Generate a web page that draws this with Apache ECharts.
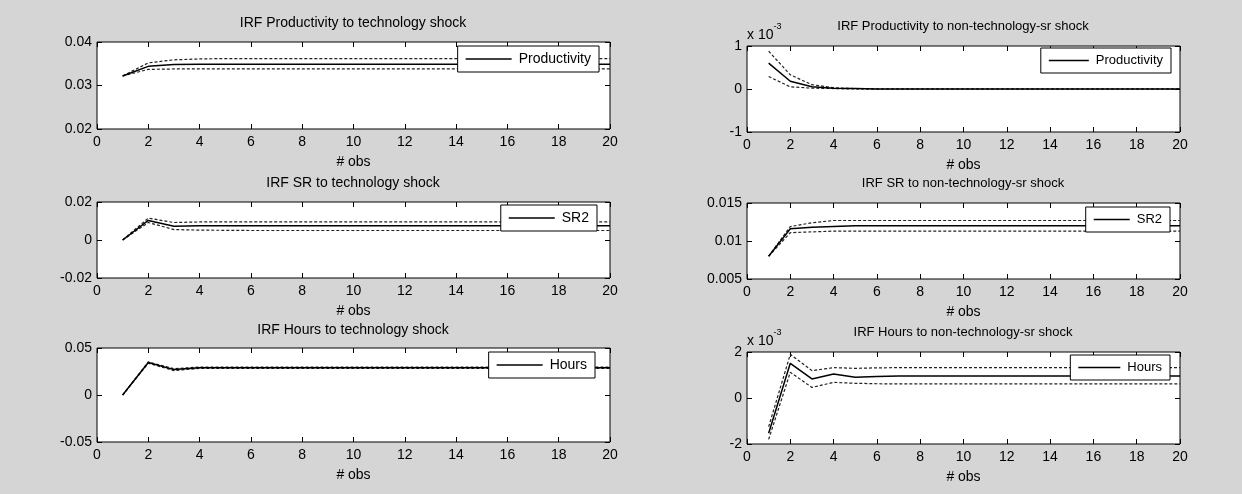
<!DOCTYPE html>
<html><head><meta charset="utf-8">
<script src="https://cdn.jsdelivr.net/npm/echarts@6/dist/echarts.min.js"></script>
<style>html,body{margin:0;padding:0;background:#d5d5d5}#c{width:1242px;height:494px}</style>
</head><body><div id="c"></div>
<script>
// ---- data ----
const obs = [1,2,3,4,5,6,7,8,9,10,11,12,13,14,15,16,17,18,19,20];

const prodTechUpper = [0.0322,0.0352,0.0359,0.0361,0.0362,0.0362,0.0362,0.0362,0.0362,0.0362,0.0362,0.0362,0.0362,0.0362,0.0362,0.0362,0.0362,0.0362,0.0362,0.0362];
const prodTechMid   = [0.0322,0.0344,0.0348,0.0349,0.0349,0.0349,0.0349,0.0349,0.0349,0.0349,0.0349,0.0349,0.0349,0.0349,0.0349,0.0349,0.0349,0.0349,0.0349,0.0349];
const prodTechLower = [0.0322,0.0337,0.0338,0.0338,0.0338,0.0338,0.0338,0.0338,0.0338,0.0338,0.0338,0.0338,0.0338,0.0338,0.0338,0.0338,0.0338,0.0338,0.0338,0.0338];

const srTechUpper = [0,0.0115,0.0092,0.0095,0.0095,0.0095,0.0095,0.0095,0.0095,0.0095,0.0095,0.0095,0.0095,0.0095,0.0095,0.0095,0.0095,0.0095,0.0095,0.0095];
const srTechMid   = [0,0.0103,0.0072,0.0075,0.0075,0.0075,0.0075,0.0075,0.0075,0.0075,0.0075,0.0075,0.0075,0.0075,0.0075,0.0075,0.0075,0.0075,0.0075,0.0075];
const srTechLower = [0,0.0092,0.0055,0.0052,0.0051,0.0050,0.0050,0.0050,0.0050,0.0050,0.0050,0.0050,0.0050,0.0050,0.0050,0.0050,0.0050,0.0050,0.0050,0.0050];

const hoursTechUpper = [0,0.0352,0.0280,0.0297,0.0296,0.0296,0.0296,0.0296,0.0296,0.0296,0.0296,0.0296,0.0296,0.0296,0.0296,0.0296,0.0296,0.0296,0.0296,0.0296];
const hoursTechMid   = [0,0.0345,0.0270,0.0290,0.0289,0.0289,0.0289,0.0289,0.0289,0.0289,0.0289,0.0289,0.0289,0.0289,0.0289,0.0289,0.0289,0.0289,0.0289,0.0289];
const hoursTechLower = [0,0.0338,0.0260,0.0283,0.0282,0.0282,0.0282,0.0282,0.0282,0.0282,0.0282,0.0282,0.0282,0.0282,0.0282,0.0282,0.0282,0.0282,0.0282,0.0282];

const prodNonUpper = [0.00088,0.00033,0.00010,0.00003,0.00001,0,0,0,0,0,0,0,0,0,0,0,0,0,0,0];
const prodNonMid   = [0.00060,0.00018,0.00005,0.00002,0.00001,0,0,0,0,0,0,0,0,0,0,0,0,0,0,0];
const prodNonLower = [0.00029,0.00005,0.00002,0.00001,0,0,0,0,0,0,0,0,0,0,0,0,0,0,0,0];

const srNonUpper = [0.0080,0.0119,0.0124,0.0127,0.0127,0.0127,0.0127,0.0127,0.0127,0.0127,0.0127,0.0127,0.0127,0.0127,0.0127,0.0127,0.0127,0.0127,0.0127,0.0127];
const srNonMid   = [0.0080,0.0116,0.0118,0.0119,0.0120,0.0120,0.0120,0.0120,0.0120,0.0120,0.0120,0.0120,0.0120,0.0120,0.0120,0.0120,0.0120,0.0120,0.0120,0.0120];
const srNonLower = [0.0080,0.0111,0.0112,0.0113,0.0113,0.0113,0.0113,0.0113,0.0113,0.0113,0.0113,0.0113,0.0113,0.0113,0.0113,0.0113,0.0113,0.0113,0.0113,0.0113];

const hoursNonUpper = [-0.00125,0.00190,0.00119,0.00132,0.00129,0.00131,0.00132,0.00132,0.00132,0.00132,0.00132,0.00132,0.00132,0.00132,0.00132,0.00132,0.00132,0.00132,0.00132,0.00132];
const hoursNonMid   = [-0.00153,0.00151,0.00083,0.00104,0.00090,0.00094,0.00096,0.00096,0.00096,0.00096,0.00096,0.00096,0.00096,0.00096,0.00096,0.00096,0.00096,0.00096,0.00096,0.00096];
const hoursNonLower = [-0.00180,0.00112,0.00046,0.00068,0.00064,0.00062,0.00061,0.00061,0.00061,0.00061,0.00061,0.00061,0.00061,0.00061,0.00061,0.00061,0.00061,0.00061,0.00061,0.00061];

const titles = [
  'IRF Productivity to technology shock',
  'IRF SR to technology shock',
  'IRF Hours to technology shock',
  'IRF Productivity to non-technology-sr shock',
  'IRF SR to non-technology-sr shock',
  'IRF Hours to non-technology-sr shock'
];
const seriesNames = ['Productivity','SR2','Hours','Productivity','SR2','Hours'];
const xAxisLabel = '# obs';
const xTickStep = 2;
const xRange = [0, 20];
const yRanges = [[0.02,0.04,0.01],[-0.02,0.02,0.02],[-0.05,0.05,0.05],[-0.001,0.001,0.001],[0.005,0.015,0.005],[-0.002,0.002,0.002]];
const yScaled = [false,false,false,true,false,true];
const bands = [
  [prodTechUpper, prodTechMid, prodTechLower],
  [srTechUpper, srTechMid, srTechLower],
  [hoursTechUpper, hoursTechMid, hoursTechLower],
  [prodNonUpper, prodNonMid, prodNonLower],
  [srNonUpper, srNonMid, srNonLower],
  [hoursNonUpper, hoursNonMid, hoursNonLower]
];

// ---- layout ----
const FONT = "'Liberation Sans', Arial, sans-serif";
const layout = [
  {grid:{left:97, top:42, width:513, height:87},  title:{x:353, y:16},  legend:{right:643, top:46}, fs:14, lfs:14, tfs:14, lw:46},
  {grid:{left:97, top:202, width:513, height:76}, title:{x:353, y:176}, legend:{right:645, top:205}, fs:14, lfs:14, tfs:14, lw:46},
  {grid:{left:97, top:348, width:513, height:94}, title:{x:353, y:323}, legend:{right:647, top:352}, fs:14, lfs:14, tfs:14, lw:46},
  {grid:{left:747, top:46, width:433, height:86}, title:{x:963, y:20},  legend:{right:71, top:48}, fs:14, lfs:13, tfs:13, lw:40},
  {grid:{left:747, top:203, width:433, height:76},title:{x:963, y:177}, legend:{right:72, top:207}, fs:14, lfs:13, tfs:13, lw:36},
  {grid:{left:747, top:352, width:433, height:92},title:{x:963, y:326}, legend:{right:72, top:355}, fs:14, lfs:13, tfs:13, lw:42}
];

const grid = [], xAxis = [], yAxis = [], series = [], title = [], legend = [];
const pair = arr => obs.map((x, k) => [x, arr[k]]);

layout.forEach((L, i) => {
  const txt = {color:'#000', fontFamily:FONT, fontSize:L.fs};
  grid.push(Object.assign({show:true, backgroundColor:'#fff', borderColor:'#000', borderWidth:1}, L.grid));
  title.push({text:titles[i], left:L.title.x, top:L.title.y, textAlign:'center', padding:0,
    textStyle:{color:'#000', fontFamily:FONT, fontSize:L.tfs, fontWeight:'normal'}});
  const tick = {show:true, inside:true, length:5, lineStyle:{color:'#000', width:1}};
  const line = {show:false, onZero:false};
  xAxis.push({gridIndex:i, type:'value', min:xRange[0], max:xRange[1], interval:xTickStep, position:'bottom',
    axisLine:line, axisTick:tick, splitLine:{show:false},
    axisLabel:Object.assign({margin:6}, txt),
    name:xAxisLabel, nameLocation:'middle', nameGap:26, nameTextStyle:txt});
  xAxis.push({gridIndex:i, type:'value', min:xRange[0], max:xRange[1], interval:xTickStep, position:'top',
    axisLine:line, axisTick:tick, splitLine:{show:false}, axisLabel:{show:false}});
  const [ymin, ymax, yint] = yRanges[i];
  const yl = {gridIndex:i, type:'value', min:ymin, max:ymax, interval:yint, position:'left',
    axisLine:line, axisTick:tick, splitLine:{show:false},
    axisLabel:Object.assign({margin:5}, txt)};
  if (yScaled[i]) {
    yl.axisLabel.formatter = v => String(Math.round(v * 1000));
    yl.name = '{a|x 10}{s|-3}';
    yl.nameLocation = 'end';
    yl.nameGap = 4;
    yl.nameTextStyle = {align:'left', verticalAlign:'bottom', rich:{
      a:{fontSize:14, fontFamily:FONT, color:'#000', lineHeight:20, verticalAlign:'bottom'},
      s:{fontSize:9, fontFamily:FONT, color:'#000', lineHeight:20, verticalAlign:'top'}}};
  }
  yAxis.push(yl);
  yAxis.push({gridIndex:i, type:'value', min:ymin, max:ymax, interval:yint, position:'right',
    axisLine:line, axisTick:tick, splitLine:{show:false}, axisLabel:{show:false}});
  const [up, mid, lo] = bands[i];
  const band = {type:[3,2], color:'#222', width:1.2};
  series.push({type:'line', name:seriesNames[i], xAxisIndex:2*i, yAxisIndex:2*i, data:pair(mid), symbol:'none',
    lineStyle:{color:'#000', width:1.5}, itemStyle:{color:'#000'}, z:3});
  series.push({type:'line', xAxisIndex:2*i, yAxisIndex:2*i, data:pair(up), symbol:'none', lineStyle:band, z:2});
  series.push({type:'line', xAxisIndex:2*i, yAxisIndex:2*i, data:pair(lo), symbol:'none', lineStyle:band, z:2});
  legend.push({data:[seriesNames[i]], right:L.legend.right, top:L.legend.top, orient:'vertical',
    backgroundColor:'#fff', borderColor:'#000', borderWidth:1, padding:[6,8,6,8],
    icon:'rect', itemWidth:L.lw, itemHeight:1.5, itemGap:0, selectedMode:false,
    itemStyle:{color:'#000'}, textStyle:{color:'#000', fontFamily:FONT, fontSize:L.lfs, padding:[0,0,0,2]}});
});

const chart = echarts.init(document.getElementById('c'), null, {renderer:'canvas'});
chart.setOption({backgroundColor:'#d5d5d5', animation:false, grid, xAxis, yAxis, series, title, legend});
</script>
</body></html>
